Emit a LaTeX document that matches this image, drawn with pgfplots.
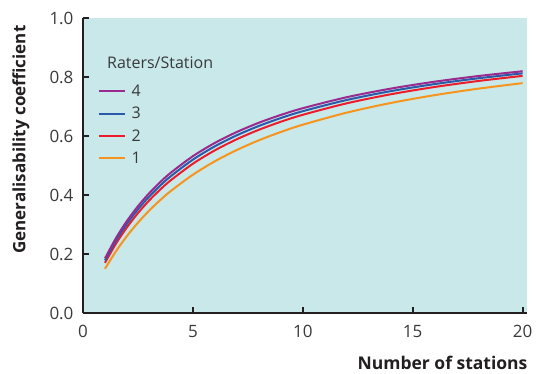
\documentclass[border=0pt]{standalone}
\usepackage{pgfplots}
\pgfplotsset{compat=1.18}
\usepackage{fontspec}
\setmainfont{Open Sans}
\definecolor{bgc}{HTML}{C8E8EA}
\definecolor{cpurple}{HTML}{9B2A8E}
\definecolor{cblue}{HTML}{2B5BA8}
\definecolor{cred}{HTML}{EC1C2A}
\definecolor{corange}{HTML}{F7941D}
\definecolor{axc}{HTML}{231F20}
\definecolor{txt}{HTML}{3A3A3A}
\begin{document}
\begin{tikzpicture}
\begin{axis}[
  scale only axis,
  width=444pt, height=295pt,
  xmin=0, xmax=20.2, ymin=0, ymax=1.0,
  axis lines*=left,
  axis line style={line width=2.2pt, color=axc, -},
  axis background/.style={fill=bgc},
  xtick={0,5,10,15,20},
  ytick={0,0.2,0.4,0.6,0.8,1.0},
  yticklabel style={/pgf/number format/fixed, /pgf/number format/fixed zerofill, /pgf/number format/precision=1},
  /pgf/number format/assume math mode=true,
  tick align=inside,
  major tick length=6pt,
  tick style={line width=1.8pt, color=axc},
  ticklabel style={font=\fontsize{17}{19}\selectfont, text=txt},
  xticklabel style={yshift=-9pt},
  yticklabel style={xshift=-6pt},
  xlabel={\textbf{Number of stations}},
  xlabel style={at={(axis description cs:1,0)}, anchor=north east, yshift=-40pt, xshift=4pt, font=\fontsize{17.5}{19}\selectfont, text=axc},
  ylabel={\textbf{Generalisability coefficient}},
  ylabel style={at={(axis description cs:0,1)}, anchor=south east, yshift=50pt, xshift=-4pt, font=\fontsize{17}{19}\selectfont, text=axc},
  legend style={draw=none, fill=none, at={(axis description cs:0.026,0.638)}, anchor=west, font=\fontsize{16}{18}\selectfont, text=txt, row sep=5.2pt, nodes={inner xsep=6pt}},
  legend cell align=left,
  legend image code/.code={\draw[#1, line width=2pt] (0pt,0pt) -- (26pt,0pt);},
  every axis plot/.append style={line width=2pt, smooth},
  clip=false,
]
\addplot[corange, forget plot] coordinates {(1,0.1500) (1.5,0.2093) (2,0.2609) (2.5,0.3061) (3,0.3462) (3.5,0.3818) (4,0.4138) (5,0.4688) (6,0.5143) (7,0.5526) (8,0.5854) (9,0.6136) (10,0.6383) (12,0.6792) (14,0.7119) (16,0.7385) (18,0.7606) (20,0.7792)};
\addplot[cred, forget plot] coordinates {(1,0.1700) (1.5,0.2350) (2,0.2906) (2.5,0.3386) (3,0.3806) (3.5,0.4175) (4,0.4503) (5,0.5060) (6,0.5514) (7,0.5891) (8,0.6210) (9,0.6483) (10,0.6719) (12,0.7108) (14,0.7414) (16,0.7662) (18,0.7866) (20,0.8038)};
\addplot[cblue, forget plot] coordinates {(1,0.1780) (1.5,0.2452) (2,0.3022) (2.5,0.3512) (3,0.3938) (3.5,0.4311) (4,0.4641) (5,0.5199) (6,0.5651) (7,0.6025) (8,0.6340) (9,0.6609) (10,0.6841) (12,0.7221) (14,0.7520) (16,0.7760) (18,0.7958) (20,0.8124)};
\addplot[cpurple, forget plot] coordinates {(1,0.1850) (1.5,0.2540) (2,0.3122) (2.5,0.3620) (3,0.4051) (3.5,0.4427) (4,0.4759) (5,0.5316) (6,0.5766) (7,0.6137) (8,0.6449) (9,0.6714) (10,0.6942) (12,0.7315) (14,0.7606) (16,0.7841) (18,0.8034) (20,0.8195)};
\addlegendimage{cpurple}\addlegendentry{4}
\addlegendimage{cblue}\addlegendentry{3}
\addlegendimage{cred}\addlegendentry{2}
\addlegendimage{corange}\addlegendentry{1}
\node[anchor=west, inner sep=0pt, font=\fontsize{16}{18}\selectfont, text=txt] at (axis description cs:0.054,0.847) {Raters/Station};
\end{axis}
\path ([shift={(-83pt,-60pt)}]current axis.south west) rectangle ([shift={(11pt,18pt)}]current axis.north east);
\end{tikzpicture}
\end{document}
